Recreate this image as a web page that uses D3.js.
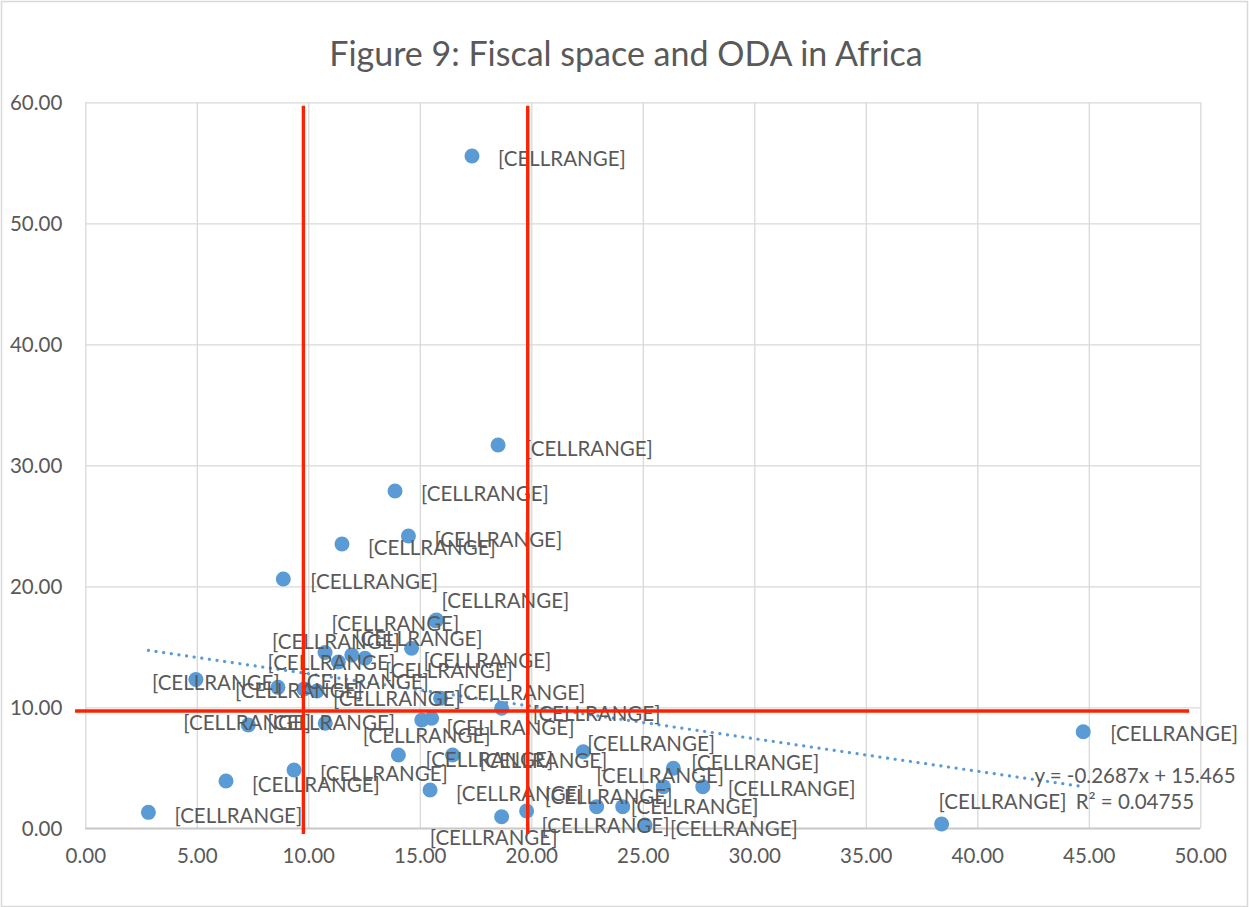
<!DOCTYPE html>
<html>
<head>
<meta charset="utf-8">
<script src="https://cdn.jsdelivr.net/npm/d3@7"></script>
<style>
  html, body { margin: 0; padding: 0; background: #fff; }
  svg { display: block; }
  text { font-family: Lato, "Open Sans", sans-serif; fill: #595959; }
</style>
</head>
<body>
<svg id="chart" width="1249" height="907"></svg>
<script>
// Fiscal space (x) against ODA (y), one point per African country
const fiscalSpace = [17.34, 18.51, 13.89, 14.49, 11.51, 8.88, 15.75, 10.75, 11.95, 12.54,
  14.63, 11.35, 4.96, 8.64, 9.81, 10.39, 15.93, 18.67, 15.09, 15.53,
  7.31, 10.76, 44.75, 14.04, 16.47, 22.33, 26.37, 9.36, 6.31, 25.92,
  27.69, 15.46, 22.93, 24.10, 2.83, 18.67, 19.79, 25.10, 38.40, 15.70];
const oda = [55.56, 31.68, 27.88, 24.16, 23.50, 20.60, 17.21, 14.53, 14.32, 14.05,
  14.88, 13.74, 12.30, 11.65, 11.51, 11.35, 10.74, 9.92, 8.95, 9.09,
  8.54, 8.68, 7.98, 6.06, 6.06, 6.33, 4.96, 4.82, 3.91, 3.44,
  3.44, 3.17, 1.79, 1.79, 1.32, 0.96, 1.43, 0.27, 0.36, 17.15];
const pointLabels = fiscalSpace.map(() => "[CELLRANGE]");

// label placement relative to each marker (px)
const labelNudge = [[26,2],[27,3],[26,2],[26,3],[26,3],[27,2],[5,-20],[-53,-11],[3,-17],[20,12],
  [12,12],[-71,0],[-44,3],[-43,3],[-3,-8],[16,7],[17,-6],[31,5],[-59,15],[15,9],
  [-65,-3],[-58,-1],[27,1],[27,4],[27,5],[4,-9],[18,-6],[26,3],[26,3],[-67,-12],
  [25,1],[26,3],[-52,-11],[8,-1],[26,3],[-72,20],[15,14],[25,3],[-3,-23],[-104,2]];

const xTicks = [0, 5, 10, 15, 20, 25, 30, 35, 40, 45, 50];
const yTicks = [0, 10, 20, 30, 40, 50, 60];

// linear trend fitted to the series
const trendSlope = -0.2687;
const trendIntercept = 15.465;
const trendR2 = 0.04755;

// threshold guide lines (axis units)
const guideX = [9.78, 19.84];
const guideXSpan = [-0.47, 59.72];
const guideY = 9.69;
const guideYSpan = [-0.46, 49.5];

const title = "Figure 9: Fiscal space and ODA in Africa";

const svg = d3.select("#chart");
const W = 1249, H = 907;
const plot = { left: 85.3, right: 1200.3, top: 102.3, bottom: 828.3 };

const x = d3.scaleLinear().domain([0, 50]).range([plot.left, plot.right]);
const y = d3.scaleLinear().domain([0, 60]).range([plot.bottom, plot.top]);
const fmt = d3.format(".2f");

// chart frame
svg.append("rect")
  .attr("x", 1.5).attr("y", 1.5).attr("width", W - 3).attr("height", H - 2)
  .attr("fill", "#fff").attr("stroke", "#d9d9d9").attr("stroke-width", 1.5);

// title
svg.append("text")
  .attr("x", 626).attr("y", 52)
  .attr("text-anchor", "middle").attr("dominant-baseline", "central")
  .style("font-size", "34px")
  .text(title);

// gridlines
const gridX = svg.append("g")
  .attr("transform", `translate(0,${plot.bottom})`)
  .call(d3.axisBottom(x).tickValues(xTicks).tickSize(-(plot.bottom - plot.top)).tickFormat(""));
gridX.select(".domain").remove();
gridX.selectAll("line").attr("stroke", "#d9d9d9").attr("stroke-width", 1.3);

const gridY = svg.append("g")
  .attr("transform", `translate(${plot.left},0)`)
  .call(d3.axisLeft(y).tickValues(yTicks).tickSize(-(plot.right - plot.left)).tickFormat(""));
gridY.select(".domain").remove();
gridY.selectAll("line").attr("stroke", "#d9d9d9").attr("stroke-width", 1.3);

// bottom axis line
svg.append("line")
  .attr("x1", plot.left).attr("x2", plot.right)
  .attr("y1", plot.bottom).attr("y2", plot.bottom)
  .attr("stroke", "#c8c8c8").attr("stroke-width", 1.8);

// tick labels
const axX = svg.append("g")
  .attr("transform", `translate(0,${plot.bottom})`)
  .call(d3.axisBottom(x).tickValues(xTicks).tickSize(0).tickPadding(35).tickFormat(fmt));
axX.select(".domain").remove();
axX.selectAll("text").style("font-size", "20.5px").attr("fill", "#595959")
  .style("font-family", "Lato, sans-serif").attr("dy", "0");

const axY = svg.append("g")
  .attr("transform", `translate(${plot.left},0)`)
  .call(d3.axisLeft(y).tickValues(yTicks).tickSize(0).tickPadding(23).tickFormat(fmt));
axY.select(".domain").remove();
axY.selectAll("text").style("font-size", "20.5px").attr("fill", "#595959")
  .style("font-family", "Lato, sans-serif").attr("dy", "0.35em");

const data = fiscalSpace.map((v, i) => ({ x: v, y: oda[i], label: pointLabels[i], nudge: labelNudge[i] }));

// markers
svg.append("g").selectAll("circle")
  .data(data).join("circle")
  .attr("cx", d => x(d.x)).attr("cy", d => y(d.y))
  .attr("r", 7.5).attr("fill", "#5b9bd5");

// trendline over the observed range
const [xMin, xMax] = d3.extent(fiscalSpace);
svg.append("line")
  .attr("x1", x(xMin)).attr("y1", y(trendSlope * xMin + trendIntercept))
  .attr("x2", x(xMax)).attr("y2", y(trendSlope * xMax + trendIntercept))
  .attr("stroke", "#5b9bd5").attr("stroke-width", 3.2)
  .attr("stroke-linecap", "round").attr("stroke-dasharray", "0.1 7.6");

// data labels
svg.append("g").selectAll("text")
  .data(data).join("text")
  .attr("x", d => x(d.x) + d.nudge[0])
  .attr("y", d => y(d.y) + d.nudge[1])
  .attr("dominant-baseline", "central")
  .style("font-size", "20.5px")
  .text(d => d.label);

// threshold guides
const guides = svg.append("g").attr("stroke", "#ff2200").attr("stroke-width", 3.4);
guides.selectAll("line.v").data(guideX).join("line").attr("class", "v")
  .attr("x1", d => x(d)).attr("x2", d => x(d))
  .attr("y1", y(guideXSpan[1])).attr("y2", y(guideXSpan[0]));
guides.append("line")
  .attr("x1", x(guideYSpan[0])).attr("x2", x(guideYSpan[1]))
  .attr("y1", y(guideY)).attr("y2", y(guideY));

// trend equation
const eq = svg.append("text")
  .attr("text-anchor", "middle").style("font-size", "20.5px");
eq.append("tspan").attr("x", 1135).attr("y", 775).attr("dominant-baseline", "central")
  .text(`y = ${trendSlope}x + ${trendIntercept}`);
eq.append("tspan").attr("x", 1135).attr("y", 801).attr("dominant-baseline", "central")
  .text(`R² = ${trendR2}`);
</script>
</body>
</html>
